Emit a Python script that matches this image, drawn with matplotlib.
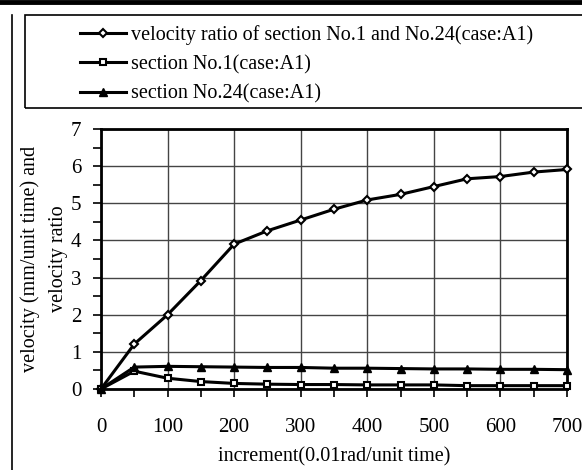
import matplotlib
matplotlib.use("Agg")
import matplotlib.pyplot as plt
from matplotlib.patches import Rectangle
from matplotlib.lines import Line2D
from matplotlib.ticker import MultipleLocator

plt.rcParams['font.family'] = ['Liberation Serif', 'DejaVu Serif']

increment = [0, 50, 100, 150, 200, 250, 300, 350, 400, 450, 500, 550, 600, 650, 700]
ratio = [0, 1.21, 2.0, 2.92, 3.90, 4.26, 4.55, 4.84, 5.09, 5.24, 5.45, 5.66, 5.72, 5.84, 5.91]
section1 = [0, 0.48, 0.29, 0.20, 0.15, 0.13, 0.12, 0.12, 0.11, 0.11, 0.11, 0.09, 0.09, 0.09, 0.09]
section24 = [0, 0.59, 0.61, 0.60, 0.59, 0.58, 0.58, 0.56, 0.56, 0.55, 0.54, 0.54, 0.53, 0.53, 0.52]

labels = ["velocity ratio of section No.1 and No.24(case:A1)",
          "section No.1(case:A1)",
          "section No.24(case:A1)"]
xticks = [0, 100, 200, 300, 400, 500, 600, 700]
yticks = [0, 1, 2, 3, 4, 5, 6, 7]

W, H = 582, 470
fig = plt.figure(figsize=(W / 100, H / 100), dpi=100)
ax = fig.add_axes([101 / W, 1 - 389 / H, (567 - 101) / W, (389 - 129) / H])

l1, = ax.plot(increment, ratio, color='black', lw=2.2, marker='D', ms=4.5,
              mfc='white', mec='black', mew=1.5, clip_on=False, zorder=5)
l2, = ax.plot(increment, section1, color='black', lw=2.2, marker='s', ms=5,
              mfc='white', mec='black', mew=1.5, clip_on=False, zorder=5)
l3, = ax.plot(increment, section24, color='black', lw=2.2, marker='^', ms=5.5,
              mfc='black', mec='black', mew=1.0, clip_on=False, zorder=5)

ax.set_xlim(0, 700)
ax.set_ylim(0, 7)
ax.set_xticks(xticks)
ax.set_xticklabels([str(v) for v in xticks])
ax.set_yticks(yticks)
ax.set_yticklabels([str(v) for v in yticks])
ax.xaxis.set_minor_locator(MultipleLocator(50))
ax.yaxis.set_minor_locator(MultipleLocator(0.5))
ax.grid(True, which='major', color='#444444', lw=1.0)
ax.set_axisbelow(True)
for s in ax.spines.values():
    s.set_linewidth(2.0)
ax.tick_params(axis='both', which='major', direction='out', length=6, width=1.2,
               labelsize=15, pad=6)
ax.tick_params(axis='both', which='minor', direction='out', length=6, width=1.2)
ax.tick_params(axis='x', which='major', pad=15)
ax.tick_params(axis='y', which='major', pad=8)

ax.set_xlabel("increment(0.01rad/unit time)", fontsize=14.5, labelpad=7)
ax.set_ylabel("velocity (mm/unit time) and\nvelocity ratio", fontsize=14.5,
              labelpad=2, linespacing=1.65)

# frame lines
fig.add_artist(Line2D([0, 1], [1 - 2 / H, 1 - 2 / H], color='black', lw=3.5,
                      transform=fig.transFigure))
fig.add_artist(Line2D([12 / W, 12 / W], [0, 1 - 15 / H], color='black', lw=1.2,
                      transform=fig.transFigure))
fig.add_artist(Rectangle((25 / W, 1 - 108 / H), 1.2, (108 - 15) / H,
                         transform=fig.transFigure, fill=False,
                         edgecolor='black', lw=1.2, clip_on=False))

fig.legend([l1, l2, l3], labels, loc='upper left',
           bbox_to_anchor=(74 / W, 1 - 19 / H), frameon=False, fontsize=14.5,
           handlelength=2.3, handletextpad=0.25, labelspacing=0.5,
           borderaxespad=0, borderpad=0.3)

fig.savefig("out.png", dpi=100)
